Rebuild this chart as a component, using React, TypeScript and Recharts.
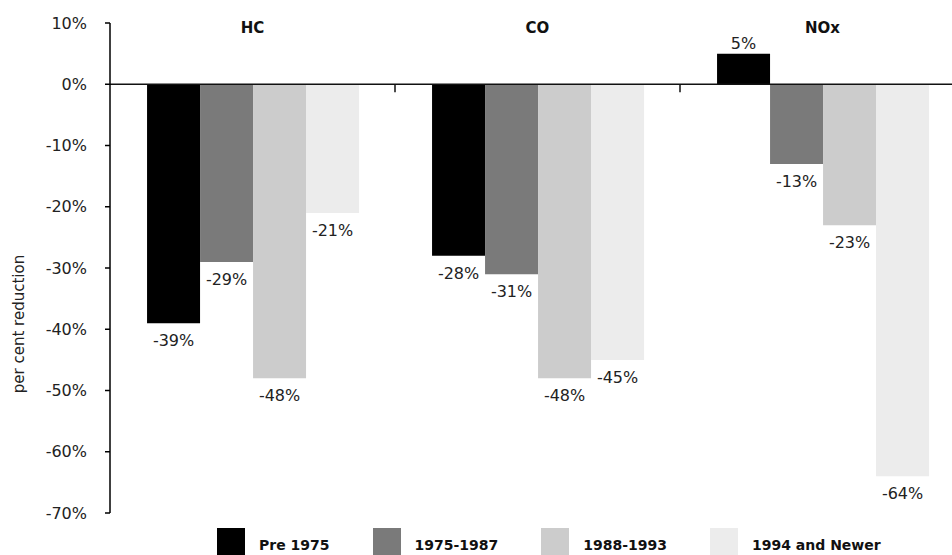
import { BarChart, Bar, XAxis, YAxis, ReferenceLine, LabelList } from "recharts"

const pollutants = ["HC", "CO", "NOx"]
const pre1975 = [-39, -28, 5]
const mid1975to1987 = [-29, -31, -13]
const mid1988to1993 = [-48, -48, -23]
const newer1994 = [-21, -45, -64]
const yTicks = [10, 0, -10, -20, -30, -40, -50, -60, -70]

const series = [
  { key: "pre1975", name: "Pre 1975", color: "#000000" },
  { key: "mid1975to1987", name: "1975-1987", color: "#7a7a7a" },
  { key: "mid1988to1993", name: "1988-1993", color: "#cccccc" },
  { key: "newer1994", name: "1994 and Newer", color: "#ececec" },
]

const data = pollutants.map((name, i) => ({
  name,
  pre1975: pre1975[i],
  mid1975to1987: mid1975to1987[i],
  mid1988to1993: mid1988to1993[i],
  newer1994: newer1994[i],
}))

const FONT = "'DejaVu Sans', sans-serif"
const TEXT = "#222"

// value label: above the bar when positive, under the bar end when negative
function ValueLabel(props: any) {
  const { x, y, width, height, value } = props
  const top = Math.min(y, y + height)
  const bottom = Math.max(y, y + height)
  const cx = x + width / 2
  const ty = value >= 0 ? top - 5 : bottom + 23
  return (
    <text x={cx} y={ty} textAnchor="middle" fontFamily={FONT} fontSize={16} fill={TEXT}>
      {value}%
    </text>
  )
}

function CategoryTick(props: any) {
  const { x, payload } = props
  return (
    <text x={x} y={33} textAnchor="middle" fontFamily={FONT} fontSize={15} fontWeight="bold" fill="#111">
      {payload.value}
    </text>
  )
}

function AxisTitle(props: any) {
  const { viewBox } = props
  const cy = viewBox.y + viewBox.height / 2 + 56
  return (
    <text
      x={24}
      y={cy}
      transform={`rotate(-90, 24, ${cy})`}
      textAnchor="middle"
      fontFamily={FONT}
      fontSize={15}
      fill={TEXT}
    >
      per cent reduction
    </text>
  )
}

export default function App() {
  return (
    <div style={{ position: "fixed", left: 0, top: 0, width: 952, height: 555, overflow: "hidden", background: "#fff" }}>
      <style>{"body{margin:0}"}</style>
      <BarChart
        width={970}
        height={555}
        data={data}
        margin={{ top: 22, right: 5, bottom: 42, left: 0 }}
        barCategoryGap="13%"
        barGap={0}
      >
        <XAxis
          dataKey="name"
          orientation="top"
          height={1}
          interval={0}
          axisLine={false}
          tickLine={false}
          tick={<CategoryTick />}
        />
        <YAxis
          domain={[-70, 10]}
          ticks={yTicks}
          interval={0}
          width={110}
          tickSize={5}
          tickMargin={18}
          tickFormatter={(v) => `${v}%`}
          tick={{ fontFamily: FONT, fontSize: 16, fill: TEXT }}
          axisLine={{ stroke: "#000", strokeWidth: 1.5 }}
          tickLine={{ stroke: "#000", strokeWidth: 1.5 }}
          label={<AxisTitle />}
        />
        {series.map((s) => (
          <Bar key={s.key} dataKey={s.key} name={s.name} fill={s.color} isAnimationActive={false}>
            <LabelList dataKey={s.key} content={<ValueLabel />} />
          </Bar>
        ))}
        <ReferenceLine y={0} stroke="#111" strokeWidth={1.5} />
        {/* short ticks on the zero line between groups */}
        {pollutants.slice(1).map((p) => (
          <ReferenceLine
            key={p}
            position="start"
            segment={[
              { x: p, y: 0 },
              { x: p, y: -1.3 },
            ]}
            stroke="#111"
            strokeWidth={1.5}
          />
        ))}
      </BarChart>
      <div
        style={{
          position: "absolute",
          left: 217,
          top: 528,
          display: "flex",
          alignItems: "flex-start",
          fontFamily: FONT,
          fontSize: 14,
          fontWeight: "bold",
          color: "#111",
        }}
      >
        {series.map((s) => (
          <div key={s.key} style={{ display: "flex", alignItems: "flex-start", marginRight: 43 }}>
            <div style={{ width: 28, height: 30, background: s.color, marginRight: 14 }} />
            <span style={{ lineHeight: "22px", marginTop: 6 }}>{s.name}</span>
          </div>
        ))}
      </div>
    </div>
  )
}
